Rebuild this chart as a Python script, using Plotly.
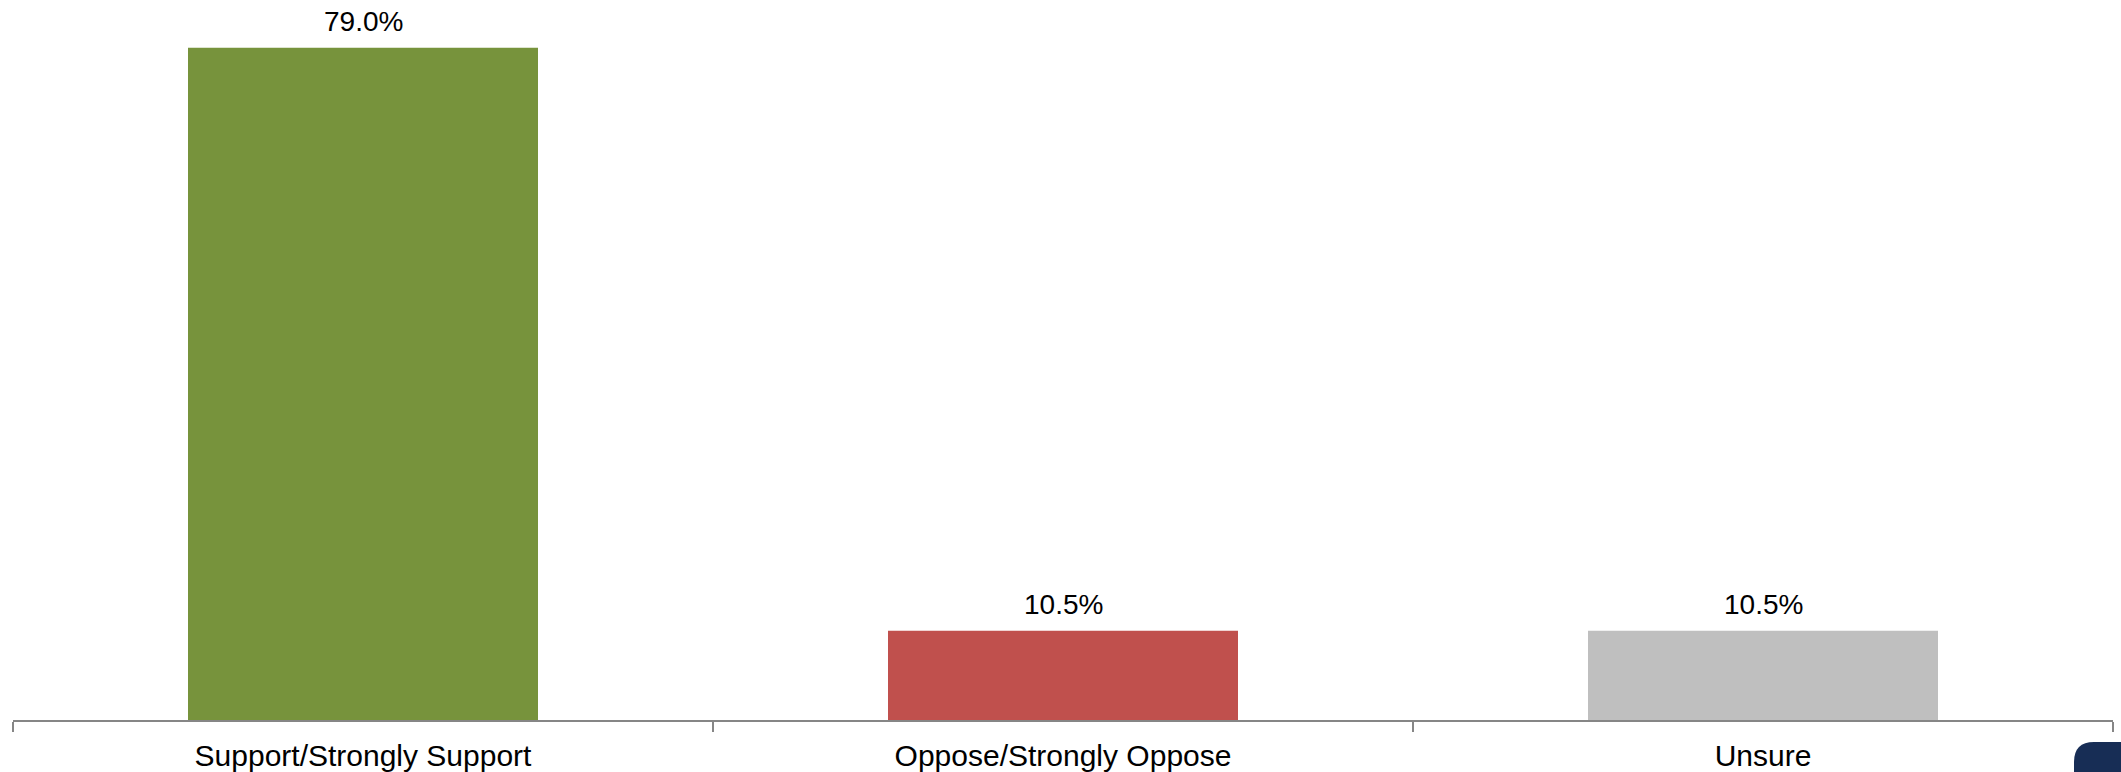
import plotly.graph_objects as go

categories = ["Support/Strongly Support", "Oppose/Strongly Oppose", "Unsure"]
values = [79.0, 10.5, 10.5]
labels = ["79.0%", "10.5%", "10.5%"]
colors = ["#77933C", "#C0504D", "#BFBFBF"]

FONT = "Liberation Sans, Arial, sans-serif"
W, H = 2121, 772
ML, MR, MT, MB = 13, 8, 0, 52

fig = go.Figure(
    go.Bar(
        x=categories,
        y=values,
        marker=dict(color=colors, line=dict(width=0)),
        width=0.5,
        hoverinfo="x+y",
    )
)

for c, v, t in zip(categories, values, labels):
    fig.add_annotation(
        x=c, y=v, text=t, showarrow=False,
        xref="x", yref="y", yanchor="middle", yshift=26,
        font=dict(family=FONT, size=28, color="#000000"),
    )

fig.update_layout(
    width=W,
    height=H,
    margin=dict(l=ML, r=MR, t=MT, b=MB),
    paper_bgcolor="white",
    plot_bgcolor="white",
    showlegend=False,
    font=dict(family=FONT, color="#000000"),
    xaxis=dict(
        showline=True,
        linecolor="#868686",
        linewidth=2,
        ticks="outside",
        tickson="boundaries",
        ticklen=10,
        tickcolor="#868686",
        tickwidth=1.5,
        tickfont=dict(size=30, color="#000000"),
        ticklabelstandoff=8,
        showgrid=False,
        zeroline=False,
        automargin=False,
    ),
    yaxis=dict(
        range=[0, 84.6],
        visible=False,
        showgrid=False,
        zeroline=False,
    ),
)

# decorative navy corner badge at bottom-right (pixel coords -> paper fractions)
plot_w = W - ML - MR
plot_h = H - MT - MB
def to_paper(x, y):
    return f"{(x - ML) / plot_w:.5f},{(H - MB - y) / plot_h:.5f}"
pts = [(2074, 780), (2074, 762), (2074, 742), (2094, 742), (2130, 742), (2130, 780)]
p = [to_paper(*q) for q in pts]
badge = f"M {p[0]} L {p[1]} Q {p[2]} {p[3]} L {p[4]} L {p[5]} Z"
fig.add_shape(
    type="path", xref="paper", yref="paper", path=badge,
    fillcolor="#172D55", line=dict(width=0), layer="above",
)

fig.write_html(
    "out.html",
    config={"displayModeBar": False},
    post_script="document.body.style.margin='0';document.body.style.overflow='hidden';",
)
